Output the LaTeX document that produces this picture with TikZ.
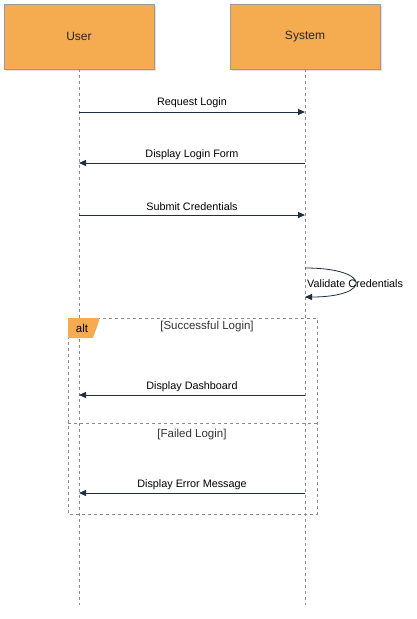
\documentclass[tikz,border=0pt]{standalone}
\usepackage{fontspec}
\setmainfont{Liberation Sans}
\usetikzlibrary{arrows.meta,shadows}
\definecolor{actfill}{HTML}{F5AB50}
\definecolor{actline}{HTML}{9A9A9A}
\definecolor{msgcol}{HTML}{1E2F40}
\definecolor{dashcol}{HTML}{8C8C8C}
\tikzset{
  actor/.style={draw=actline, fill=actfill, line width=0.8pt, minimum width=150pt, minimum height=65pt, inner sep=0pt, font=\fontsize{12}{14}\selectfont, text=black!85, drop shadow={opacity=0.25, shadow xshift=2pt, shadow yshift=-2pt}},
  lifeline/.style={draw=dashcol, line width=0.6pt, dash pattern=on 3pt off 3pt},
  msg/.style={draw=msgcol, line width=1pt, -{Triangle[length=7pt,width=6pt]}},
  lbl/.style={font=\fontsize{10.8}{12}\selectfont, text=black, inner sep=0pt},
  frame/.style={draw=dashcol, line width=0.6pt, dash pattern=on 3pt off 3pt},
  guard/.style={font=\fontsize{11.5}{13}\selectfont, text=black!80, inner sep=0pt}
}
\begin{document}
\begin{tikzpicture}[x=1pt,y=-1pt]
\useasboundingbox (0,0) rectangle (416,619);
\node[actor] (user) at (79,36.5) {User};
\node[actor] (sys) at (305,36.5) {System};
\coordinate (uend) at (79,605);
\coordinate (send) at (305,605);
\draw[lifeline] (user.south) -- (uend);
\draw[lifeline] (sys.south) -- (send);
% messages
\coordinate (u1) at (79,112); \coordinate (s1) at (305,112);
\coordinate (u2) at (79,163); \coordinate (s2) at (305,163);
\coordinate (u3) at (79,215); \coordinate (s3) at (305,215);
\coordinate (s4a) at (305,268); \coordinate (s4b) at (305,297);
\coordinate (u5) at (79,395); \coordinate (s5) at (305,395);
\coordinate (u6) at (79,493); \coordinate (s6) at (305,493);
\draw[msg] (u1) -- (s1) node[lbl, midway, yshift=9pt] (m1) {Request Login};
\draw[msg] (s2) -- (u2) node[lbl, midway, yshift=8.5pt] (m2) {Display Login Form};
\draw[msg] (u3) -- (s3) node[lbl, midway, yshift=8.5pt] (m3) {Submit Credentials};
\draw[msg, line width=0.8pt] (s4a) .. controls (372,268) and (372,297) .. (s4b);
\node[lbl, anchor=west] (m4) at (307,283.5) {Validate Credentials};
% alt frame
\draw[frame] (68,318) rectangle (317,514);
\draw[frame] (68,423) -- (317,423);
\fill[actfill] (68,318) -- (99,318) -- (99,321) -- (93,338) -- (68,338) -- cycle;
\node[guard, text=black] (alt) at (82,328) {alt};
\node[guard] (g1) at (207,327) {[Successful Login]};
\node[guard] (g2) at (192,434.5) {[Failed Login]};
\draw[msg] (s5) -- (u5) node[lbl, midway, yshift=8.5pt] (m5) {Display Dashboard};
\draw[msg] (s6) -- (u6) node[lbl, midway, yshift=8.5pt] (m6) {Display Error Message};
\end{tikzpicture}
\end{document}
